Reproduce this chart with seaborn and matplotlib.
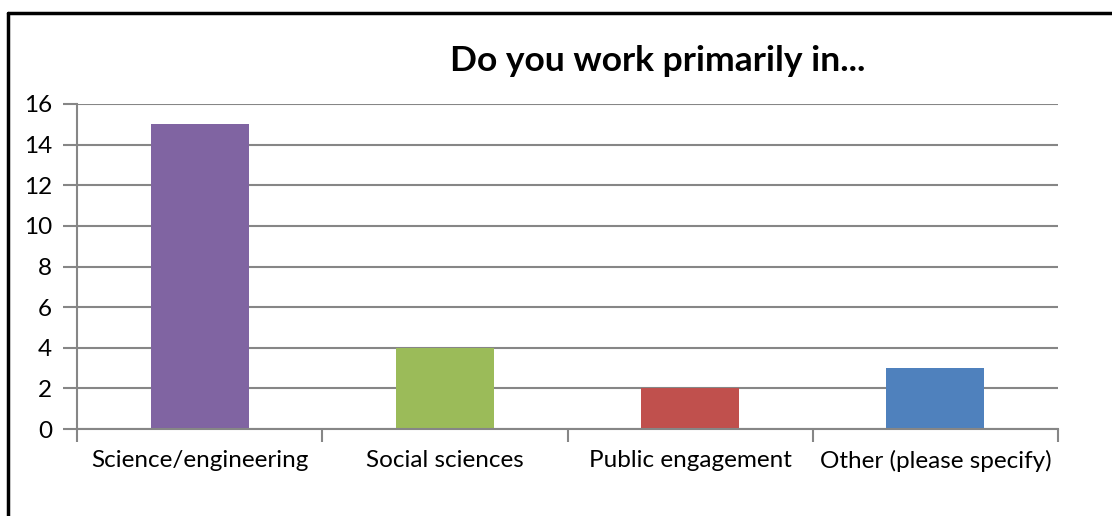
import matplotlib
matplotlib.use("Agg")
import matplotlib.pyplot as plt
from matplotlib.lines import Line2D
import seaborn as sns
import pandas as pd

categories = ["Science/engineering", "Social sciences", "Public engagement", "Other (please specify)"]
counts = [15, 4, 2, 3]
bar_colors = ["#8064A2", "#9BBB59", "#C0504D", "#4F81BD"]
y_ticks = [0, 2, 4, 6, 8, 10, 12, 14, 16]
title = "Do you work primarily in..."

sns.set_theme(style="white")
plt.rcParams["font.family"] = ["Lato", "DejaVu Sans"]

df = pd.DataFrame({"category": categories, "count": counts})

fig = plt.figure(figsize=(11.12, 5.16), dpi=100)
ax = fig.add_axes([77 / 1112, 87 / 516, (1058 - 77) / 1112, (429 - 104) / 516])

sns.barplot(data=df, x="category", y="count", hue="category",
            palette=bar_colors, order=categories, hue_order=categories,
            width=0.4, saturation=1, legend=False, linewidth=0, ax=ax)

grid_c = "#868686"
ax.set_xlim(-0.5, len(categories) - 0.5)
ax.set_ylim(0, 16)
ax.set_yticks(y_ticks)
ax.set_yticklabels([str(v) for v in y_ticks], fontsize=17.5, color="#000000")
ax.yaxis.grid(True, color=grid_c, linewidth=1.5)
ax.set_axisbelow(True)
ax.tick_params(axis="y", length=10, width=1.5, color=grid_c, pad=8, left=True)

# category labels at bar centres, tick marks at category boundaries
ax.set_xticks(range(len(categories)))
ax.set_xticklabels(categories, fontsize=17.5, color="#000000")
ax.tick_params(axis="x", which="major", length=0, pad=15)
ax.set_xticks([i - 0.5 for i in range(len(categories) + 1)], minor=True)
ax.tick_params(axis="x", which="minor", length=9, width=1.5, color=grid_c, bottom=True)

for side in ["top", "right"]:
    ax.spines[side].set_visible(False)
for side in ["left", "bottom"]:
    ax.spines[side].set_color(grid_c)
    ax.spines[side].set_linewidth(1.5)

ax.set_xlabel("")
ax.set_ylabel("")

fig.text(658 / 1112, 1 - 61 / 516, title, ha="center", va="center",
         fontsize=25.5, fontweight="bold", color="#000000")

# outer frame: top and left edges
fig.add_artist(Line2D([8 / 1112, 1], [1 - 13 / 516, 1 - 13 / 516],
                      transform=fig.transFigure, color="black", linewidth=2.5))
fig.add_artist(Line2D([8 / 1112, 8 / 1112], [0, 1 - 13 / 516],
                      transform=fig.transFigure, color="black", linewidth=2.5))

fig.savefig("out.png", dpi=100)
